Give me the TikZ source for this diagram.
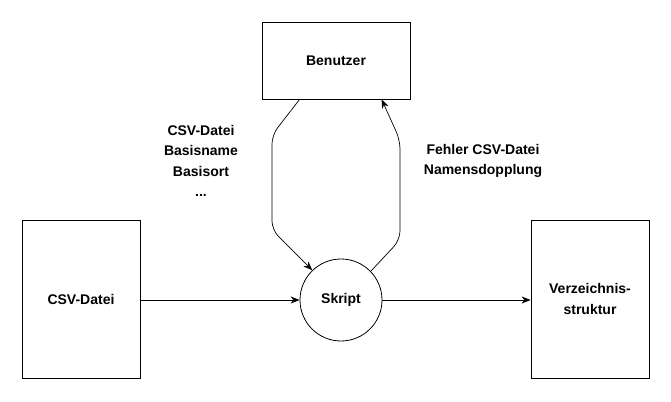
\documentclass[tikz,border=0pt]{standalone}
\usepackage{fontspec}
\setmainfont{Liberation Sans}
\usetikzlibrary{arrows.meta,calc}
\begin{document}
\begin{tikzpicture}[x=1pt,y=1pt,
  box/.style={draw,line width=0.8pt,inner sep=0pt},
  lbl/.style={font=\fontsize{14}{20.5}\selectfont\bfseries,align=center},
  conn/.style={line width=0.7pt,-{Stealth[length=9pt,width=7pt]}}]
\useasboundingbox[fill=white] (0,0) rectangle (671,-401);
\node[box,minimum width=148pt,minimum height=77pt,lbl] (ben) at (336,-60.5) {Benutzer};
\node[box,minimum width=118pt,minimum height=158pt,lbl] (csv) at (81,-299) {CSV-Datei};
\node[box,minimum width=118pt,minimum height=158pt,lbl] (ver) at (590,-299) {Verzeichnis-\\struktur};
\node[box,circle,minimum size=82pt,lbl] (skr) at (341,-300) {Skript};
\node[lbl] (inl) at (201,-161) {CSV-Datei\\Basisname\\Basisort\\...};
\node[lbl] (outl) at (483,-161) {Fehler CSV-Datei\\Namensdopplung};
\coordinate (a1) at (272,-135);
\coordinate (a2) at (272,-230);
\coordinate (b1) at (400,-240);
\coordinate (b2) at (400,-140);
\draw[conn,rounded corners=9pt] ($(ben.south west)+(38,0)$) -- (a1) -- (a2) -- (skr.134);
\draw[conn,rounded corners=9pt] (skr.44) -- (b1) -- (b2) -- ($(ben.south west)+(120,0)$);
\draw[conn] (csv.east |- skr.west) -- (skr.west);
\draw[conn] (skr.east) -- (ver.west |- skr.east);
\end{tikzpicture}
\end{document}
